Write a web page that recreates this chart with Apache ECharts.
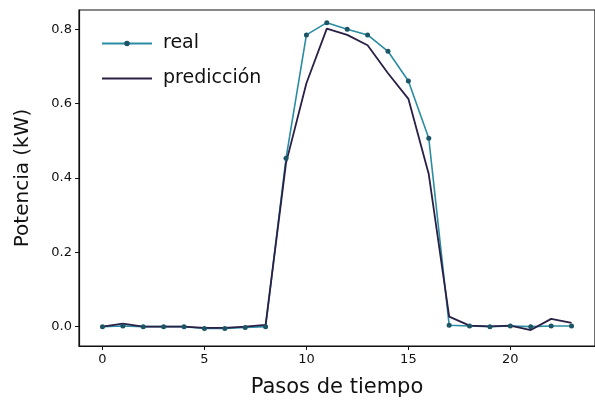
<!DOCTYPE html>
<html>
<head>
<meta charset="utf-8">
<script src="https://cdn.jsdelivr.net/npm/echarts@6/dist/echarts.min.js"></script>
<style>
  html, body { margin: 0; padding: 0; background: #fff; }
  #chart { width: 595px; height: 403px; }
</style>
</head>
<body>
<div id="chart"></div>
<script>
// pasos de tiempo 0..23
var steps = [0, 1, 2, 3, 4, 5, 6, 7, 8, 9, 10, 11, 12, 13, 14, 15, 16, 17, 18, 19, 20, 21, 22, 23];
// potencia real (kW)
var realValues = [0.0, 0.002, 0.0, 0.0, 0.0, -0.005, -0.005, -0.002, 0.0, 0.453, 0.785, 0.818, 0.80, 0.785, 0.741, 0.661, 0.507, 0.004, 0.002, 0.0, 0.002, 0.0, 0.002, 0.002];
// prediccion (kW)
var predValues = [0.0, 0.008, 0.0, 0.0, 0.0, -0.003, -0.003, 0.0, 0.005, 0.44, 0.655, 0.802, 0.785, 0.757, 0.682, 0.613, 0.41, 0.027, 0.003, 0.001, 0.003, -0.009, 0.021, 0.01];
var xTicks = [0, 5, 10, 15, 20];
var yTicks = [0, 0.2, 0.4, 0.6, 0.8];

function pairs(ys) {
  return steps.map(function (x, i) { return [x, ys[i]]; });
}

var chart = echarts.init(document.getElementById('chart'), null, { renderer: 'canvas' });
var font = 'DejaVu Sans';

var option = {
  animation: false,
  backgroundColor: '#fff',
  textStyle: { fontFamily: font },
  grid: {
    left: 79, right: -4, top: 10, bottom: 56,
    show: true, borderColor: '#111', borderWidth: 1.2
  },
  legend: {
    orient: 'vertical',
    left: 96,
    top: 29,
    itemWidth: 50,
    itemHeight: 7,
    itemGap: 16,
    symbolKeepAspect: true,
    textStyle: { fontSize: 19, color: '#111', fontFamily: font, padding: [0, 0, 0, 6] },
    data: [
      { name: 'real' },
      { name: 'predicción', icon: 'path://M0,0L50,0L50,2L0,2Z' }
    ]
  },
  xAxis: {
    type: 'value',
    min: -1.15,
    max: 24.15,
    name: 'Pasos de tiempo',
    nameLocation: 'middle',
    nameGap: 31,
    nameTextStyle: { fontSize: 21, color: '#111', fontFamily: font },
    axisLine: { show: true, onZero: false, lineStyle: { color: '#111', width: 1.2 } },
    axisTick: { show: true, length: 4, customValues: xTicks, lineStyle: { color: '#111' } },
    axisLabel: { customValues: xTicks, fontSize: 13, color: '#111', margin: 7 },
    splitLine: { show: false }
  },
  yAxis: {
    type: 'value',
    min: -0.052,
    max: 0.852,
    name: 'Potencia (kW)',
    nameLocation: 'middle',
    nameGap: 46,
    nameTextStyle: { fontSize: 20, color: '#111', fontFamily: font },
    axisLine: { show: true, onZero: false, lineStyle: { color: '#111', width: 1.2 } },
    axisTick: { show: true, length: 4, customValues: yTicks, lineStyle: { color: '#111' } },
    axisLabel: {
      customValues: yTicks, fontSize: 13, color: '#111', margin: 7,
      formatter: function (v) { return v.toFixed(1); }
    },
    splitLine: { show: false }
  },
  series: [
    {
      name: 'real',
      type: 'line',
      data: pairs(realValues),
      symbol: 'circle',
      symbolSize: 5,
      showAllSymbol: true,
      itemStyle: { color: '#1b5566' },
      lineStyle: { color: '#2a8ca2', width: 1.6 },
      color: '#2a8ca2'
    },
    {
      name: 'predicción',
      type: 'line',
      data: pairs(predValues),
      symbol: 'none',
      lineStyle: { color: '#2a1f45', width: 1.8 },
      itemStyle: { color: '#2a1f45' },
      color: '#2a1f45'
    }
  ]
};
chart.setOption(option);
</script>
</body>
</html>
